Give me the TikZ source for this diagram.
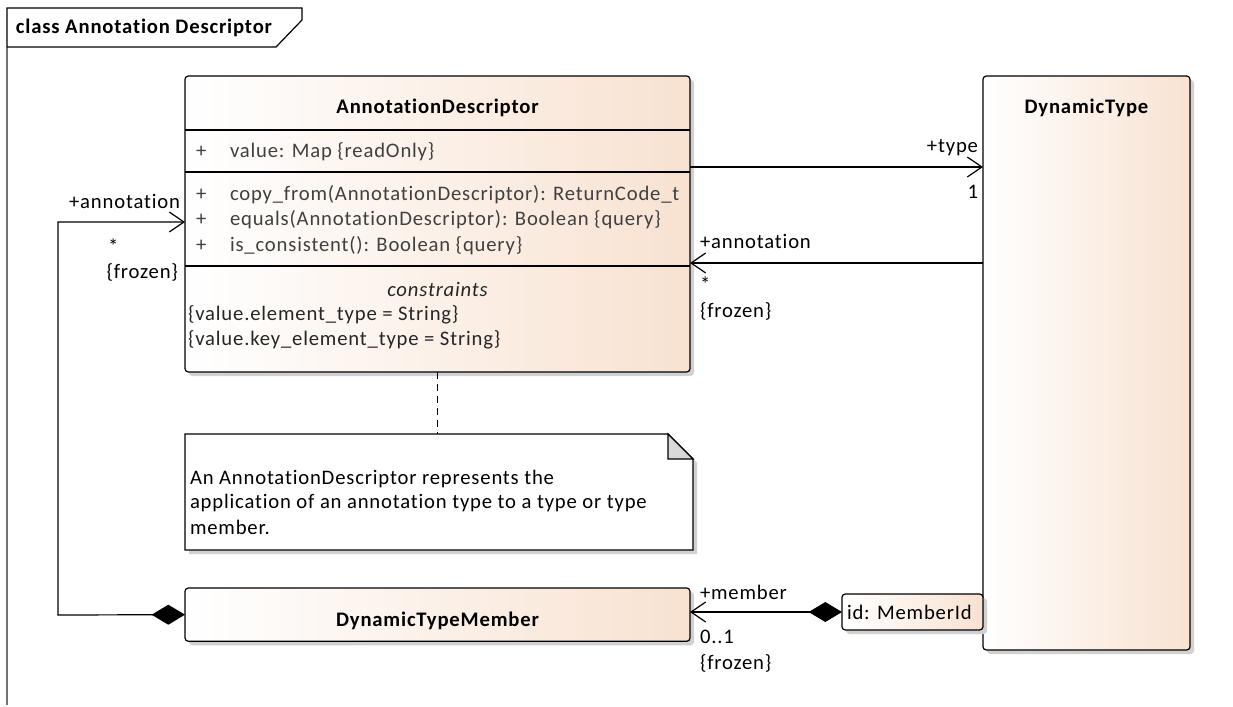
\documentclass[tikz,border=0pt]{standalone}
\usepackage{fontspec}
\setmainfont{Carlito}[LetterSpace=4, Ligatures=NoCommon]
\usetikzlibrary{arrows.meta,shadows,calc}
\definecolor{peach}{HTML}{F8E2D1}
\definecolor{membertxt}{HTML}{404040}
\begin{document}
\begin{tikzpicture}[x=0.75pt,y=-0.75pt,
  every node/.style={font=\fontsize{15.5}{18}\selectfont, inner sep=0pt, outer sep=0pt},
  umlbox/.style={draw=black, line width=0.9pt, rounded corners=2.5pt, left color=white, right color=peach,
     drop shadow={shadow xshift=3pt, shadow yshift=-3pt, fill=black!18, opacity=1}, anchor=north west},
  ttl/.style={font=\fontsize{15.5}{18}\selectfont\bfseries},
  mem/.style={anchor=west, text=membertxt},
  lbl/.style={text=black},
  conn/.style={line width=0.9pt},
  assoc/.style={conn, -{Straight Barb[length=11pt,width=15pt,line width=0.9pt]}},
  comp/.style={conn, {Diamond[length=25pt,width=15pt]}-{Straight Barb[length=11pt,width=15pt,line width=0.9pt]}}
]
\useasboundingbox (0,0) rectangle (1233,707);
\fill[white] (0,0) rectangle (1233,707);
% frame
\draw[black!55, line width=1pt] (7,47) -- (7,705);
\draw[black, line width=0.9pt] (7,47) -- (7,8) -- (302,8) -- (302,20) -- (276,47) -- (7,47);
\node[ttl, anchor=west] (frametitle) at (16,28) {class Annotation Descriptor};

% AnnotationDescriptor
\node[umlbox, minimum width=378.75pt, minimum height=222pt] (ad) at (185,76) {};
\draw[conn] (185,130) -- (690,130);
\draw[conn] (185,172) -- (690,172);
\draw[conn] (185,266) -- (690,266);
\node[ttl] (adtitle) at (437.5,108) {AnnotationDescriptor};
\node[mem] (p1) at (196,152) {+};
\node[mem] (a1) at (230,152) {value: Map \{readOnly\}};
\node[mem] (p2) at (196,195) {+};
\node[mem] (o1) at (230,195) {copy\_from(AnnotationDescriptor): ReturnCode\_t};
\node[mem] (p3) at (196,220) {+};
\node[mem] (o2) at (230,220) {equals(AnnotationDescriptor): Boolean \{query\}};
\node[mem] (p4) at (196,246) {+};
\node[mem] (o3) at (230,246) {is\_consistent(): Boolean \{query\}};
\node[text=black!85] (cons) at (437.5,289) {\itshape constraints};
\node[anchor=west, text=black!85] (c1) at (188,315) {\{value.element\_type = String\}};
\node[anchor=west, text=black!85] (c2) at (188,340) {\{value.key\_element\_type = String\}};

% DynamicType
\node[umlbox, minimum width=155.25pt, minimum height=430.5pt] (dt) at (983,76) {};
\node[ttl] (dttitle) at (1086.5,108) {DynamicType};

% DynamicTypeMember
\node[umlbox, minimum width=378.75pt, minimum height=40pt] (dtm) at (185,588) {};
\node[ttl] (dtmtitle) at (437.5,621) {DynamicTypeMember};

% qualifier
\node[umlbox, minimum width=105.75pt, minimum height=27pt] (qual) at (842,594) {};
\node[anchor=west] (qualtxt) at (847,612) {id: MemberId};

% note
\node[minimum width=381pt, minimum height=87pt, anchor=north west] (note) at (185,434) {};
\fill[black!18] (189,438) -- (672,438) -- (697,463) -- (697,554) -- (189,554) -- cycle;
\draw[conn, fill=white] (note.north west) -- ($(note.north east)+(-25,0)$) -- ($(note.north east)+(0,25)$) -- (note.south east) -- (note.south west) -- cycle;
\draw[conn, fill=black!15] ($(note.north east)+(-25,0)$) -- ($(note.north east)+(-25,25)$) -- ($(note.north east)+(0,25)$) -- cycle;
\node[anchor=west] (n1) at (190,479) {An AnnotationDescriptor represents the};
\node[anchor=west] (n2) at (190,503) {application of an annotation type to a type or type};
\node[anchor=west] (n3) at (190,527) {member.};
\draw[conn, dashed, dash pattern=on 5pt off 4pt] (ad.south) -- (ad.south |- note.north);

% connectors
\draw[assoc] (ad.east |- 0,167) -- (dt.west |- 0,167);
\node[lbl, anchor=east] (l1) at (978,148) {+type};
\node[lbl, anchor=east] (l2) at (978,192) {1};

\draw[assoc] (dt.west |- 0,263) -- (ad.east |- 0,263);
\node[lbl, anchor=west] (l3) at (700,241) {+annotation};
\node[lbl, anchor=west] (l4) at (700,284) {*};
\node[lbl, anchor=west] (l5) at (700,311) {\{frozen\}};

\draw[comp] (dtm.west) -- (58,615) |- (ad.west |- 0,222);
\node[lbl, anchor=east] (l6) at (180,201) {+annotation};
\node[lbl, anchor=west] (l7) at (108,246) {*};
\node[lbl, anchor=east] (l8) at (178,272) {\{frozen\}};

\draw[comp] (qual.west) -- (dtm.east |- qual.west);
\node[lbl, anchor=west] (l9) at (700,592) {+member};
\node[lbl, anchor=west] (l10) at (700,637) {0..1};
\node[lbl, anchor=west] (l11) at (700,663) {\{frozen\}};
\end{tikzpicture}
\end{document}
